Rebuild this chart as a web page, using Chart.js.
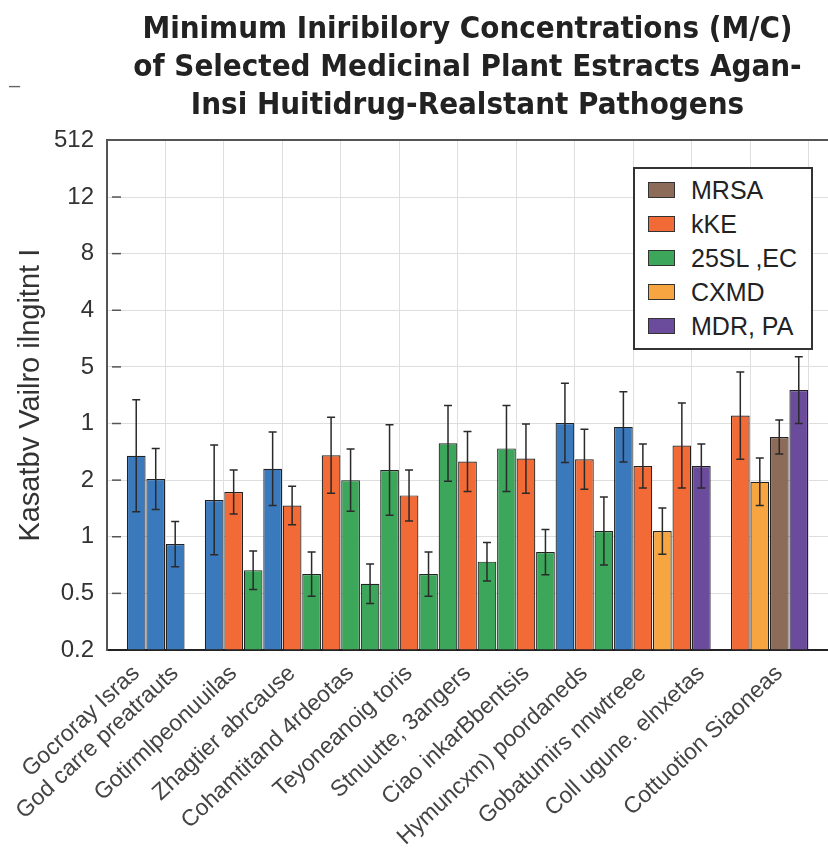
<!DOCTYPE html>
<html>
<head>
<meta charset="utf-8">
<script src="https://cdn.jsdelivr.net/npm/chart.js@4.4.1/dist/chart.umd.min.js"></script>
<style>
  html, body { margin:0; padding:0; background:#fff; }
  #wrap   { position:relative; width:828px; height:854px; }
  #legend { position:absolute; left:633px; top:167px; width:176px; height:175px;
            border:2px solid #333; background:#fff; padding-top:4px; box-sizing:content-box;
            font-family:"Liberation Sans", Arial, sans-serif; font-size:25px; color:#222; }
  .lg-row { height:34px; display:flex; align-items:center; padding-left:13px; }
  .lg-box { width:25px; height:14px; border:1.5px solid #333; margin-right:16px; flex-shrink:0; }
  #stray  { position:absolute; left:9px; top:74px; font:20px "Liberation Sans", sans-serif; color:#666; }
</style>
</head>
<body>
<div id="wrap">
  <canvas id="mic-chart" width="828" height="854"></canvas>
  <div id="legend"></div>
  <span id="stray">–</span>
</div>
<script>
/* ─── Data ────────────────────────────────────────────────────────────── */
const TITLE_LINES = [
  "Minimum Iniribilory Concentrations (M/C)",
  "of Selected Medicinal Plant Estracts Agan-",
  "Insi Huitidrug-Realstant Pathogens",
];
const Y_TITLE = "Kasatbv Vailro ilngitnt I";

// y axis is drawn on evenly spaced steps; these are the labels printed on them
const yTickLabels = ["0.2", "0.5", "1", "2", "1", "5", "4", "8", "12", "512"];

// series 0 is the unlabelled blue one (not in the legend)
const seriesNames = ["", "MRSA", "kKE", "25SL ,EC", "CXMD", "MDR, PA"];

// one entry per bar slot along the x axis
const slotLabels = [
  "", "Gocroray Isras", "", "God carre preatrauts", "",
  "", "Gotirmlpeonuuilas", "",
  "", "Zhagtier abrcause", "",
  "", "Cohamtitand 4rdeotas", "",
  "", "Teyoneanoig toris", "",
  "", "Stnuutte, 3angers", "",
  "", "Ciao inkarBbentsis", "",
  "", "Hymuncxm) poordaneds", "",
  "", "Gobatumirs nnwtreee", "",
  "", "Coll ugune. elnxetas", "",
  "", "", "Cottuotion Siaoneas", "", "",
];
const slotSeries = [
  null, 0, 0, 0, null,
  0, 2, 3,   0, 2, 3,   2, 3, 3,   3, 2, 3,   3, 2, 3,
  3, 2, 3,   0, 2, 3,   0, 2, 4,   2, 5, null,
  2, 4, 1, 5, null,
];
const slotMic = [
  null, 3.43, 3.02, 1.87, null,
  2.65, 2.79, 1.41,   3.20, 2.55, 1.34,   3.44, 3.00, 1.17,   3.18, 2.73, 1.34,   3.65, 3.33, 1.56,
  3.56, 3.38, 1.73,   4.01, 3.37, 2.10,   3.94, 3.25, 2.10,   3.61, 3.25, null,
  4.14, 2.97, 3.76, 4.59, null,
];
const slotErr = [
  null, 0.99, 0.54, 0.40, null,
  0.97, 0.39, 0.34,   0.65, 0.34, 0.39,   0.67, 0.55, 0.35,   0.80, 0.45, 0.39,   0.67, 0.53, 0.34,
  0.76, 0.61, 0.40,   0.70, 0.53, 0.60,   0.62, 0.39, 0.41,   0.75, 0.39, null,
  0.77, 0.42, 0.30, 0.59, null,
];

/* ─── Styles ──────────────────────────────────────────────────────────── */
const SERIES_COLORS = ["#3b79bd", "#8c6b58", "#f26a35", "#3ca65b", "#f7a540", "#6b4b9b"];
const GRID = "#dedede";
const SANS = "'Liberation Sans', Arial, sans-serif";

/* ─── Plugins ─────────────────────────────────────────────────────────── */
const errorBars = {
  id: "errorBars",
  afterDatasetsDraw(chart) {
    const { ctx, scales: { y } } = chart;
    ctx.save();
    ctx.strokeStyle = "#2a2a2a";
    ctx.lineWidth = 1.5;
    chart.data.datasets.forEach((ds, di) => {
      chart.getDatasetMeta(di).data.forEach((bar, i) => {
        const v = ds.data[i], e = ds.err[i];
        if (v == null || e == null) return;
        const top = y.getPixelForValue(v + e), bot = y.getPixelForValue(v - e);
        ctx.beginPath();
        ctx.moveTo(bar.x, top);     ctx.lineTo(bar.x, bot);
        ctx.moveTo(bar.x - 4, top); ctx.lineTo(bar.x + 4, top);
        ctx.moveTo(bar.x - 4, bot); ctx.lineTo(bar.x + 4, bot);
        ctx.stroke();
      });
    });
    ctx.restore();
  },
};

// little tick dashes drawn just inside the left axis
const innerTicks = {
  id: "innerTicks",
  afterDraw(chart) {
    const { ctx, chartArea, scales: { y } } = chart;
    ctx.save();
    ctx.strokeStyle = "#555";
    ctx.lineWidth = 1.5;
    y.ticks.forEach(t => {
      if (t.value <= y.min || t.value >= y.max) return;
      const py = y.getPixelForValue(t.value);
      ctx.beginPath();
      ctx.moveTo(chartArea.left + 5, py);
      ctx.lineTo(chartArea.left + 14, py);
      ctx.stroke();
    });
    ctx.restore();
  },
};

/* ─── Chart ───────────────────────────────────────────────────────────── */
const chart = new Chart(document.getElementById("mic-chart").getContext("2d"), {
  type: "bar",
  data: {
    labels: slotLabels,
    datasets: seriesNames.map((name, s) => ({
      label: name,
      data: slotMic.map((v, i) => slotSeries[i] === s ? v : null),
      err:  slotErr.map((e, i) => slotSeries[i] === s ? e : null),
      backgroundColor: SERIES_COLORS[s],
      borderColor: "#222",
      borderWidth: 1.2,
      grouped: false,
      barPercentage: 0.96,
      categoryPercentage: 1,
    })),
  },
  options: {
    responsive: false, animation: false,
    layout: { padding: 0 },
    plugins: {
      legend: { display: false },
      tooltip: { enabled: false },
      title: {
        display: true, text: TITLE_LINES, fullSize: false, color: "#222",
        font: { family: "'Liberation Sans Narrow','DejaVu Sans Condensed',sans-serif", size: 31, weight: "bold", lineHeight: 1.23 },
        padding: { top: 11, bottom: 15 },
      },
    },
    scales: {
      x: {
        grid: {
          offset: true, drawTicks: false,
          color: c => (c.index % 3 === 0 && c.index > 0) ? GRID : "transparent",
        },
        border: { color: "#222", width: 2 },
        ticks: {
          autoSkip: false, minRotation: 43, maxRotation: 43, padding: 10,
          color: "#444", font: { family: SANS, size: 23 },
        },
        afterFit: s => { s.height = 204; s.paddingLeft = 0; s.paddingRight = 0; },
      },
      y: {
        min: 0, max: 9,
        grid: {
          drawTicks: false,
          color: c => (c.tick && c.tick.value === 9) ? "#555" : GRID,
          lineWidth: c => (c.tick && c.tick.value === 9) ? 2 : 1,
        },
        border: { color: "#555", width: 2 },
        ticks: {
          stepSize: 1, padding: 13, color: "#333",
          font: { family: SANS, size: 24 },
          callback: v => yTickLabels[v],
        },
        title: {
          display: true, text: Y_TITLE, color: "#333",
          font: { family: SANS, size: 29 },
          padding: { top: 14, bottom: 0 },
        },
        afterFit: s => { s.width = 107; },
      },
    },
  },
  plugins: [errorBars, innerTicks],
});

/* ─── HTML legend ─────────────────────────────────────────────────────── */
document.getElementById("legend").innerHTML = chart.data.datasets
  .filter(ds => ds.label)
  .map(ds => `<div class="lg-row"><div class="lg-box" style="background:${ds.backgroundColor}"></div><span>${ds.label}</span></div>`)
  .join("");
</script>
</body>
</html>
